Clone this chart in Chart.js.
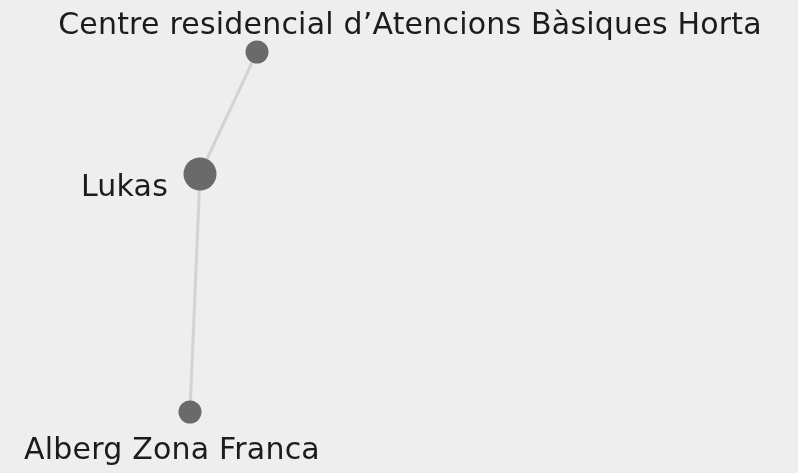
<!DOCTYPE html>
<html><head><meta charset="utf-8">
<script src="https://cdn.jsdelivr.net/npm/chart.js@4/dist/chart.umd.min.js"></script>
<style>html,body{margin:0;padding:0;background:#eeeeee;}canvas{display:block;}</style>
</head><body>
<canvas id="c" width="798" height="473"></canvas>
<script>
// Network data (node layout coordinates and weights)
const nodeNames = ["Centre residencial d\u2019Atencions B\u00e0siques Horta", "Lukas", "Alberg Zona Franca"];
const nodeX = [257, 200, 190];
const nodeY = [52, 174, 412];
const nodeWeight = [2, 3, 2];
const linkSource = [0, 1];
const linkTarget = [1, 2];

// Label styling (not data)
const labelStyle = [
  {align: 'center', dx: 153, dy: -18},
  {align: 'right', dx: -32, dy: 22},
  {align: 'center', dx: -18, dy: 47}
];
const radiusFor = w => ({2: 11.5, 3: 16.5}[w]);

const linkDatasets = linkSource.map((s, i) => ({
  type: 'line',
  data: [{x: nodeX[s], y: nodeY[s]}, {x: nodeX[linkTarget[i]], y: nodeY[linkTarget[i]]}],
  borderColor: '#d3d3d3',
  borderWidth: 3,
  pointRadius: 0,
  showLine: true,
  order: 2
}));

const labelPlugin = {
  id: 'nodeLabels',
  afterDatasetsDraw(chart) {
    const ctx = chart.ctx;
    const xs = chart.scales.x, ys = chart.scales.y;
    ctx.save();
    ctx.font = '30px "DejaVu Sans"';
    ctx.letterSpacing = '0.2px';
    ctx.fillStyle = '#1c1c1c';
    ctx.textBaseline = 'alphabetic';
    nodeNames.forEach((n, i) => {
      const st = labelStyle[i];
      ctx.textAlign = st.align;
      ctx.fillText(n, xs.getPixelForValue(nodeX[i]) + st.dx, ys.getPixelForValue(nodeY[i]) + st.dy);
    });
    ctx.restore();
  }
};

new Chart(document.getElementById('c'), {
  type: 'scatter',
  data: {
    datasets: [...linkDatasets, {
      type: 'scatter',
      data: nodeNames.map((n, i) => ({x: nodeX[i], y: nodeY[i]})),
      pointRadius: nodeWeight.map(radiusFor),
      pointHoverRadius: nodeWeight.map(radiusFor),
      backgroundColor: '#6a6a6a',
      borderWidth: 0,
      order: 1
    }]
  },
  options: {
    responsive: false,
    animation: false,
    layout: {padding: 0, autoPadding: false},
    plugins: {legend: {display: false}, tooltip: {enabled: false}},
    scales: {
      x: {type: 'linear', display: false, min: 0, max: 798},
      y: {type: 'linear', display: false, min: 0, max: 473, reverse: true}
    }
  },
  plugins: [{
    id: 'bg',
    beforeDraw(chart) {
      const ctx = chart.ctx;
      ctx.save(); ctx.fillStyle = '#eeeeee'; ctx.fillRect(0, 0, chart.width, chart.height); ctx.restore();
    }
  }, labelPlugin]
});
</script>
</body></html>
